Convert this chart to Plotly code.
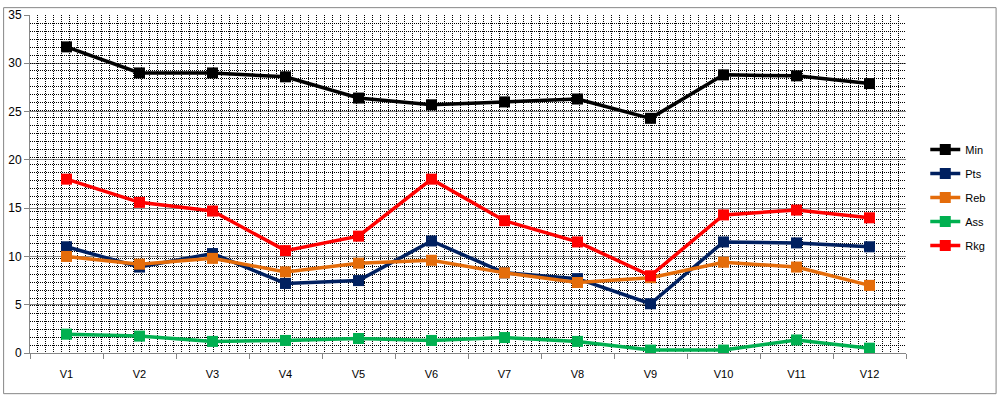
import plotly.graph_objects as go

categories = ["V1", "V2", "V3", "V4", "V5", "V6", "V7", "V8", "V9", "V10", "V11", "V12"]
min_vals = [31.7, 29.0, 29.0, 28.6, 26.4, 25.7, 26.0, 26.3, 24.3, 28.8, 28.7, 27.9]
pts_vals = [11.0, 8.9, 10.3, 7.2, 7.5, 11.6, 8.3, 7.7, 5.1, 11.5, 11.4, 11.0]
reb_vals = [10.0, 9.2, 9.8, 8.4, 9.3, 9.6, 8.3, 7.3, 7.8, 9.4, 8.9, 7.0]
ass_vals = [1.95, 1.75, 1.2, 1.3, 1.5, 1.3, 1.6, 1.2, 0.3, 0.3, 1.35, 0.5]
rkg_vals = [18.0, 15.6, 14.7, 10.6, 12.1, 18.0, 13.7, 11.5, 8.0, 14.3, 14.8, 14.0]
y_tick_step = 5
y_max = 35

series = [
    ("Min", min_vals, "#000000"),
    ("Pts", pts_vals, "#002060"),
    ("Reb", reb_vals, "#E46C0A"),
    ("Ass", ass_vals, "#00B050"),
    ("Rkg", rkg_vals, "#FF0000"),
]

W, H = 999, 395
ML, MR, MT, MB = 27, 92, 8, 42
plot_w = W - ML - MR
plot_h = H - MT - MB

fig = go.Figure()
for i, (name, vals, color) in enumerate(series):
    fig.add_trace(go.Scatter(
        x=categories, y=vals, name=name, mode="lines+markers",
        line=dict(color=color, width=3.5),
        marker=dict(symbol="square", size=11, color=color),
        legendgroup=name,
    ))

# invisible trace carrying the pattern-grid axes
fig.add_trace(go.Scatter(x=[0], y=[0], xaxis="x2", yaxis="y2", mode="markers",
                         marker=dict(opacity=0), showlegend=False, hoverinfo="skip"))

gray = "#868686"

fig.update_layout(
    width=W, height=H,
    margin=dict(l=ML, r=MR, t=MT, b=MB),
    paper_bgcolor="white", plot_bgcolor="white",
    font=dict(family="Liberation Sans, Arial, sans-serif", size=11, color="#000000"),
    xaxis=dict(
        type="category", range=[-0.5, 11.5], tickson="boundaries",
        showgrid=False, ticks="outside", ticklen=5, tickcolor=gray,
        showline=True, linecolor=gray, linewidth=1, zeroline=False,
        tickfont=dict(size=11), ticklabelstandoff=11,
    ),
    xaxis2=dict(
        overlaying="x", range=[0, plot_w], tickmode="linear", tick0=0, dtick=8,
        showgrid=True, gridcolor="#000000", gridwidth=1, griddash="1px,1px",
        showticklabels=False, ticks="", zeroline=False, showline=False,
    ),
    yaxis2=dict(
        overlaying="y", range=[0, plot_h], tickmode="linear", tick0=0, dtick=8,
        showgrid=True, gridcolor="#000000", gridwidth=1, griddash="1px,1px",
        showticklabels=False, ticks="", zeroline=False, showline=False,
        side="right",
    ),
    yaxis=dict(
        range=[0, y_max], tickmode="linear", tick0=0, dtick=y_tick_step,
        ticks="outside", ticklen=5, tickcolor=gray,
        showgrid=True, gridcolor=gray, gridwidth=1,
        showline=True, linecolor=gray, linewidth=1, zeroline=False,
        tickfont=dict(size=12),
    ),
    legend=dict(
        x=1.022, xanchor="left", y=0.645, yanchor="top",
        font=dict(size=11), bgcolor="rgba(0,0,0,0)", tracegroupgap=5,
        itemwidth=30,
    ),
    showlegend=True,
)

fig.add_shape(type="rect", xref="paper", yref="paper",
              x0=-ML / plot_w + 0.5 / plot_w, x1=1 + (MR - 1.5) / plot_w,
              y0=-MB / plot_h + 0.5 / plot_h, y1=1 + (MT - 0.5) / plot_h,
              line=dict(color=gray, width=1), layer="below")

fig.write_html("out.html",
               config={"displayModeBar": False},
               post_script="document.body.style.margin='0';document.body.style.padding='0';document.body.style.overflow='hidden';")
